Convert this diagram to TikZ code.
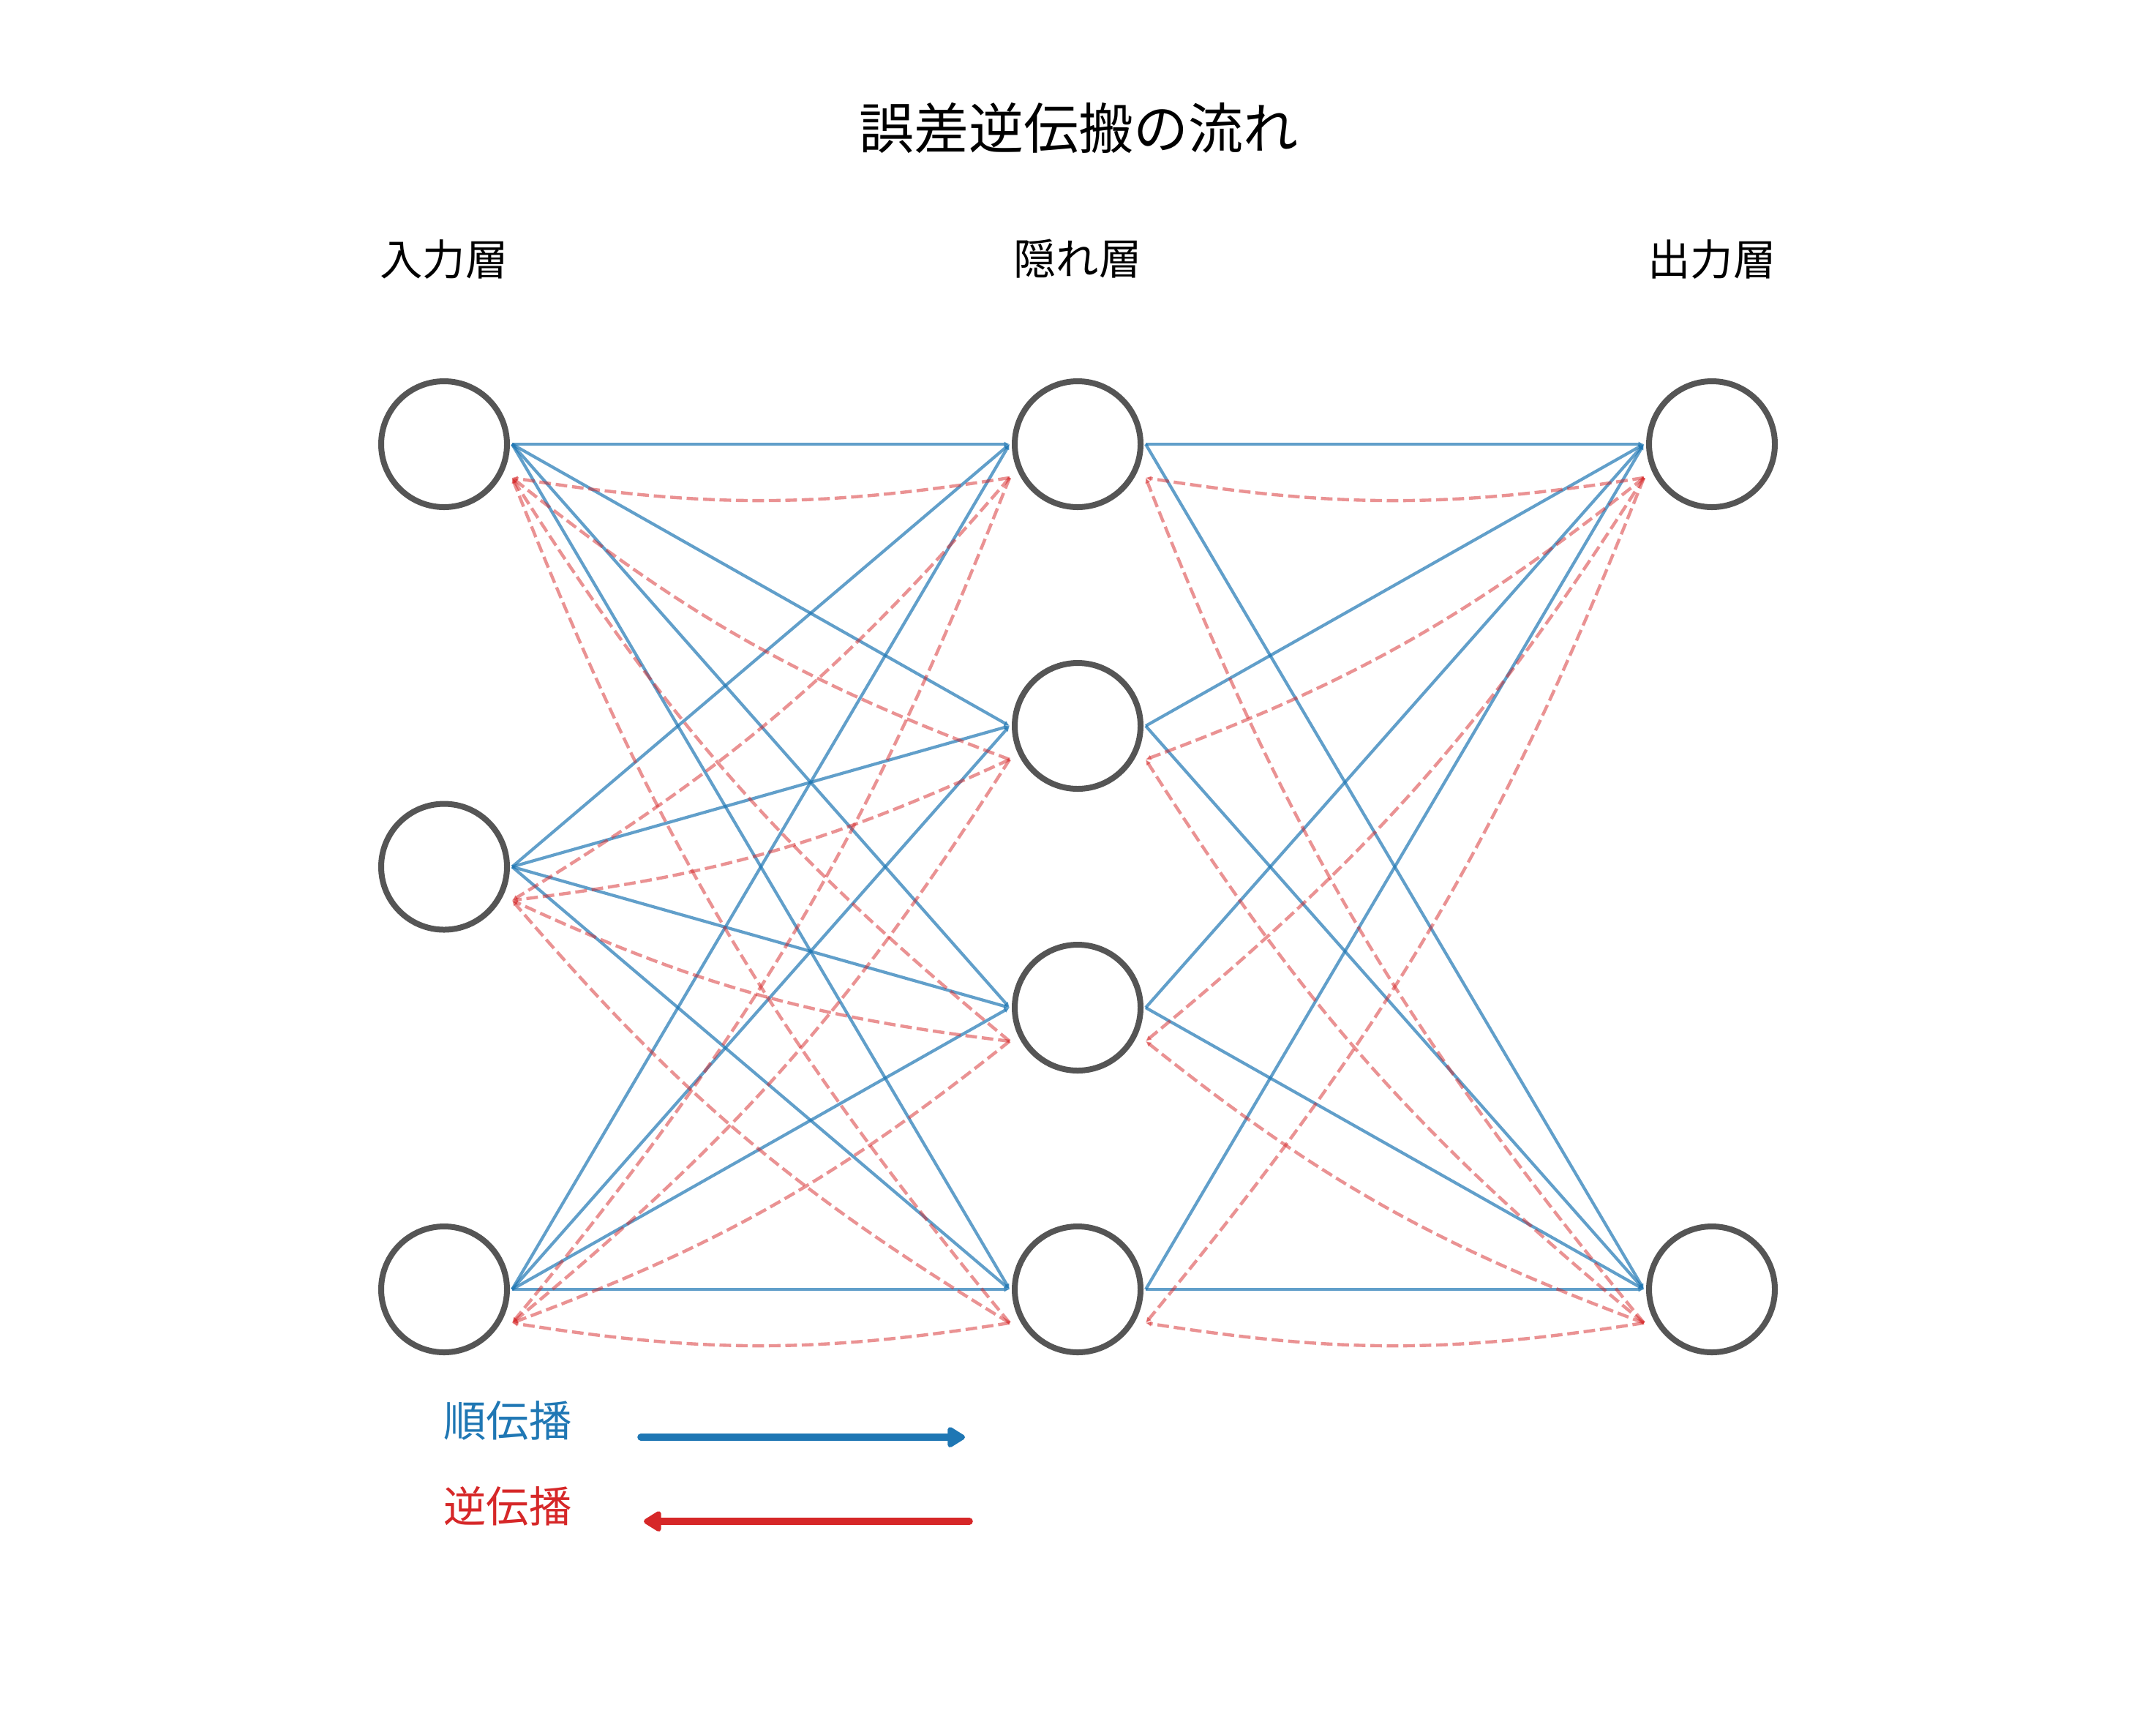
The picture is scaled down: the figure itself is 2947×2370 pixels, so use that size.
\documentclass[tikz,border=0pt]{standalone}
\usepackage{fontspec}
\setmainfont{Noto Sans CJK JP}
\usetikzlibrary{arrows.meta,calc}
\definecolor{tabblue}{RGB}{31,119,180}
\definecolor{tabred}{RGB}{214,39,40}
\definecolor{nodegray}{RGB}{85,85,85}
\begin{document}
\begin{tikzpicture}[x=0.24pt,y=-0.24pt,
  neuron/.style={circle,draw=nodegray,line width=1.92pt,minimum size=41.28pt,inner sep=0pt,outer sep=1.68pt,fill=white},
  fw/.style={draw=tabblue,opacity=0.7,line width=1pt,-{Latex[length=1.8pt,width=1.8pt]}},
  bw/.style={draw=tabred,opacity=0.5,line width=1.05pt,dash pattern=on 3.8pt off 1.6pt,-{Latex[length=1.8pt,width=1.8pt]},bend left=9},
  lbl/.style={font=\fontsize{14}{16}\selectfont},
  ttl/.style={font=\fontsize{18}{20}\selectfont},
  legarrow/.style={line width=2.3pt,line cap=round,-{Triangle[length=6.5pt,width=7.5pt,round]}},
]
\fill[white] (0,0) rectangle (2947,2370);
\useasboundingbox (0,0) rectangle (2947,2370);

\node[ttl] (title) at (1474,175) {誤差逆伝搬の流れ};
\node[lbl] (Li) at (607,354) {入力層};
\node[lbl] (Lh) at (1473,354) {隠れ層};
\node[lbl] (Lo) at (2340,354) {出力層};

\node[neuron] (i1) at (607,607) {};
\node[neuron] (i2) at (607,1184.5) {};
\node[neuron] (i3) at (607,1762) {};
\node[neuron] (h1) at (1473,607) {};
\node[neuron] (h2) at (1473,992) {};
\node[neuron] (h3) at (1473,1377) {};
\node[neuron] (h4) at (1473,1762) {};
\node[neuron] (o1) at (2340,607) {};
\node[neuron] (o2) at (2340,1762) {};

% forward
\foreach \s in {i1,i2,i3}{
  \foreach \t in {h1,h2,h3,h4}{
    \draw[fw] (\s.east) -- (\t.west);
  }
}
\foreach \s in {h1,h2,h3,h4}{
  \foreach \t in {o1,o2}{
    \draw[fw] (\s.east) -- (\t.west);
  }
}
% backward
\foreach \s in {i1,i2,i3}{
  \foreach \t in {h1,h2,h3,h4}{
    \draw[bw] ([yshift=-11pt]\t.west) to ([yshift=-11pt]\s.east);
  }
}
\foreach \s in {h1,h2,h3,h4}{
  \foreach \t in {o1,o2}{
    \draw[bw] ([yshift=-11pt]\t.west) to ([yshift=-11pt]\s.east);
  }
}

% legend
\node[lbl,text=tabblue] (lf) at (694,1941) {順伝播};
\node[lbl,text=tabred] (lb) at (694,2058) {逆伝播};
\coordinate (fa) at (876,1964);
\coordinate (fb) at (1319,1964);
\coordinate (ba) at (1325,2079);
\coordinate (bb) at (880,2079);
\draw[legarrow,draw=tabblue,fill=tabblue] (fa) -- (fb);
\draw[legarrow,draw=tabred,fill=tabred] (ba) -- (bb);
\end{tikzpicture}
\end{document}
